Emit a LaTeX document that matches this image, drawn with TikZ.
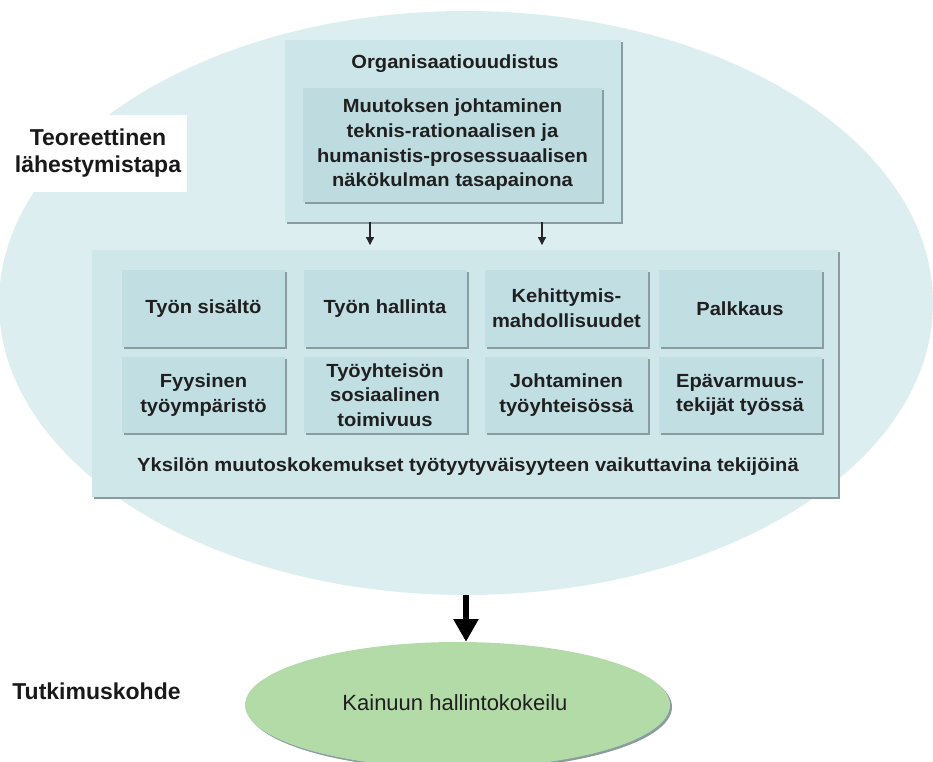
\documentclass[tikz,border=0pt]{standalone}
\usepackage{fontspec}
\setmainfont{Liberation Sans}
\newfontfamily\boxfont{Liberation Sans}[FakeStretch=1.06]
\usetikzlibrary{shapes.geometric,arrows.meta,shadows}
\definecolor{ellfill}{HTML}{DCEEF0}
\definecolor{bigfill}{HTML}{D0E7EA}
\definecolor{cellfill}{HTML}{C1DFE3}
\definecolor{topfill}{HTML}{CCE5E8}
\definecolor{innerfill}{HTML}{BEDCE0}
\definecolor{greenfill}{HTML}{B3DBA7}
\definecolor{shadowcol}{HTML}{8A9C9F}
\tikzset{
  boxtext/.style={font=\boxfont\bfseries\fontsize{14.25}{18.5}\selectfont, align=center, text=black!88},
  shadowed/.style={general shadow={shadow xshift=1.5pt, shadow yshift=-1.5pt, fill=shadowcol, draw=none}},
  cell/.style={boxtext, shadowed, fill=cellfill, minimum width=122.25pt, minimum height=57.5pt, inner sep=0pt},
  bigell/.style={ellipse, fill=ellfill, draw=none, minimum width=700.5pt, minimum height=438pt, inner sep=0pt},
  sidelabel/.style={font=\bfseries\fontsize{17.25}{20.25}\selectfont, align=center, text=black!90},
  smallarrow/.style={line width=0.8pt, black!85, -{Triangle[width=6pt,length=6pt]}},
  bigarrow/.style={line width=4pt, black, -{Triangle[width=18pt,length=17pt]}}
}
\begin{document}
\begin{tikzpicture}[x=0.75pt,y=-0.75pt]
\useasboundingbox (0,0) rectangle (933,762);
% background ellipse
\node[bigell] (theory) at (466,303) {};
% side label
\node[sidelabel, fill=white, minimum width=133.5pt, minimum height=57.75pt, inner sep=0pt] (lbl) at (98,153.5) {Teoreettinen\\lähestymistapa};
% top box
\node[shadowed, fill=topfill, minimum width=252pt, minimum height=136.5pt, inner sep=0pt] (org) at (453,131) {};
\node[boxtext] (orgt) at (455,64) {Organisaatiouudistus};
\node[boxtext, shadowed, fill=innerfill, minimum width=224.25pt, minimum height=85.5pt, inner sep=0pt] (inner) at (452.5,145) {Muutoksen johtaminen\\teknis-rationaalisen ja\\humanistis-prosessuaalisen\\näkökulman tasapainona};
% big box
\node[shadowed, fill=bigfill, minimum width=559.5pt, minimum height=185.25pt, inner sep=0pt] (big) at (465,373.5) {};
\node[cell] (c11) at (203.5,308.5) {Työn sisältö};
\node[cell] (c12) at (385,308.5) {Työn hallinta};
\node[cell] (c13) at (566.5,308.5) {Kehittymis-\\mahdollisuudet};
\node[cell] (c14) at (740,308.5) {Palkkaus};
\node[cell] (c21) at (203.5,395) {Fyysinen\\työympäristö};
\node[cell] (c22) at (385,395) {Työyhteisön\\sosiaalinen\\toimivuus};
\node[cell] (c23) at (566.5,395) {Johtaminen\\työyhteisössä};
\node[cell] (c24) at (740,395) {Epävarmuus-\\tekijät työssä};
\node[boxtext] (yks) at (468,467) {Yksilön muutoskokemukset työtyytyväisyyteen vaikuttavina tekijöinä};
% small arrows
\coordinate (a1) at (370,0);
\coordinate (a2) at (542,0);
\draw[smallarrow, shorten >=3.5pt] (org.south -| a1) -- (big.north -| a1);
\draw[smallarrow, shorten >=3.5pt] (org.south -| a2) -- (big.north -| a2);
% research object
\node[ellipse, shadowed, fill=greenfill, minimum width=318.75pt, minimum height=94.5pt, inner sep=0pt] (kainuu) at (457.5,705) {};
\node[font=\fontsize{16.5}{19}\selectfont, text=black!88] (kt) at (455,703) {Kainuun hallintokokeilu};
\node[sidelabel] (tk) at (96.5,691) {Tutkimuskohde};
\coordinate (a3) at (466,0);
\draw[bigarrow] (theory.south -| a3) -- (kainuu.north -| a3);
\end{tikzpicture}
\end{document}
